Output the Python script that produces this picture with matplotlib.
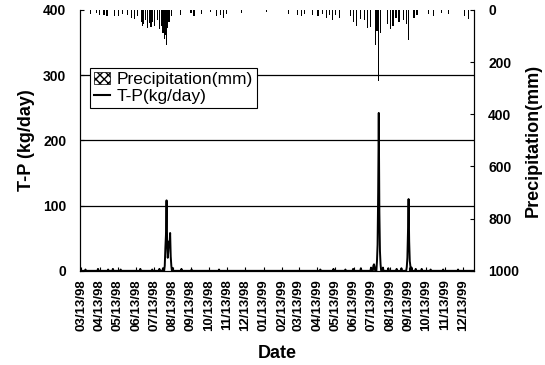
import numpy as np
import pandas as pd
import matplotlib
matplotlib.use("Agg")
from matplotlib import pyplot as plt
from matplotlib.patches import Patch
from matplotlib.lines import Line2D
import matplotlib.dates as mdates

# daily precipitation events (mm)
precip_dates = ["1998-03-28", "1998-04-07", "1998-04-13", "1998-04-20", "1998-04-25",
                "1998-05-08", "1998-05-15", "1998-05-21", "1998-05-30", "1998-06-05",
                "1998-06-10", "1998-06-15", "1998-06-22", "1998-06-24", "1998-06-26",
                "1998-06-29", "1998-07-02", "1998-07-05", "1998-07-08", "1998-07-11",
                "1998-07-14", "1998-07-19", "1998-07-22", "1998-07-25", "1998-07-28",
                "1998-07-30", "1998-08-01", "1998-08-03", "1998-08-05", "1998-08-07",
                "1998-08-11", "1998-08-27", "1998-09-13", "1998-09-18", "1998-09-30",
                "1998-10-16", "1998-10-26", "1998-11-01", "1998-11-06", "1998-11-12",
                "1998-12-07", "1999-01-17", "1999-02-23", "1999-03-11", "1999-03-17",
                "1999-03-23", "1999-04-05", "1999-04-14", "1999-04-22", "1999-04-28",
                "1999-05-04", "1999-05-09", "1999-05-14", "1999-05-20", "1999-06-07",
                "1999-06-13", "1999-06-18", "1999-06-24", "1999-07-01", "1999-07-06",
                "1999-07-11", "1999-07-19", "1999-07-22", "1999-07-25", "1999-07-28",
                "1999-08-08", "1999-08-13", "1999-08-18", "1999-08-23", "1999-08-28",
                "1999-09-05", "1999-09-09", "1999-09-13", "1999-09-22", "1999-09-27",
                "1999-10-17", "1999-10-25", "1999-11-07", "1999-11-19", "1999-12-16",
                "1999-12-22"]
precip_mm = [15, 12, 20, 18, 25,
             22, 25, 15, 18, 30,
             35, 25, 45, 60, 55,
             40, 70, 50, 65, 45,
             60, 40, 75, 60, 90,
             110, 95, 134, 70, 45,
             25, 20, 12, 25, 15,
             10, 25, 20, 30, 15,
             12, 10, 15, 20, 25,
             15, 20, 25, 15, 30,
             20, 40, 20, 30, 25,
             45, 60, 35, 40, 70,
             65, 134, 80, 272, 90,
             55, 75, 60, 30, 45,
             40, 55, 115, 30, 20,
             15, 25, 12, 15, 25,
             35]

# T-P load (kg/day), non-zero days
tp_dates = ["1998-03-20", "1998-04-10", "1998-04-27", "1998-05-05", "1998-05-18",
            "1998-06-20", "1998-07-10", "1998-07-22", "1998-07-28",
            "1998-07-31", "1998-08-01", "1998-08-02", "1998-08-03", "1998-08-04",
            "1998-08-05", "1998-08-06", "1998-08-07", "1998-08-08", "1998-08-09",
            "1998-08-10", "1998-08-11", "1998-08-13", "1998-08-28", "1998-09-14",
            "1998-10-30",
            "1999-04-18", "1999-05-10", "1999-05-30", "1999-06-12", "1999-06-25",
            "1999-07-12", "1999-07-16", "1999-07-17", "1999-07-18", "1999-07-22",
            "1999-07-23", "1999-07-24", "1999-07-25", "1999-07-26", "1999-07-27",
            "1999-07-28", "1999-08-01", "1999-08-10", "1999-08-24", "1999-09-01",
            "1999-09-10", "1999-09-11", "1999-09-12", "1999-09-13", "1999-09-14",
            "1999-09-15", "1999-09-16", "1999-09-18", "1999-09-25", "1999-10-05",
            "1999-10-20", "1999-11-10", "1999-12-05"]
tp_values = [2, 3, 2, 3, 2,
             3, 2, 3, 4,
             8, 35, 55, 108, 40,
             20, 30, 45, 38, 58,
             22, 8, 4, 3, 2,
             2,
             2, 3, 2, 3, 4,
             5, 8, 10, 6, 15,
             40, 120, 242, 90, 30,
             10, 5, 4, 3, 4,
             6, 20, 60, 110, 45,
             15, 8, 5, 3, 3,
             2, 2, 2]

xtick_dates = pd.date_range("1998-03-01", "1999-12-01", freq="MS") + pd.Timedelta(days=12)

days = pd.date_range("1998-03-12", "1999-12-31", freq="D")
tp = pd.Series(tp_values, index=pd.to_datetime(tp_dates)).reindex(days, fill_value=0)
precip = pd.Series(precip_mm, index=pd.to_datetime(precip_dates))

plt.rcParams['font.family'] = ['Liberation Sans', 'DejaVu Sans']

fig = plt.figure(figsize=(5.45, 3.65), dpi=100)
ax = fig.add_axes([0.147, 0.258, 0.723, 0.715])
ax2 = ax.twinx()

# horizontal reference lines
for v in [100, 200, 300]:
    ax.axhline(v, color="black", lw=0.9, zorder=1)

ax.plot(tp.index, tp.values, color="black", lw=1.4, zorder=3)
ax2.bar(precip.index, precip.values, width=2.0, color="black", align="center")

ax.set_ylim(0, 400)
ax.set_yticks([0, 100, 200, 300, 400])
ax2.set_ylim(1000, 0)
ax2.set_yticks([0, 200, 400, 600, 800, 1000])

ax.set_xlim(pd.Timestamp("1998-03-11"), pd.Timestamp("2000-01-01"))
ax.set_xticks(xtick_dates)
ax.xaxis.set_major_formatter(mdates.DateFormatter("%m/%d/%y"))

for lab in ax.get_xticklabels():
    lab.set_rotation(90)
    lab.set_fontsize(9.5)
    lab.set_fontweight("bold")
for lab in ax.get_yticklabels() + ax2.get_yticklabels():
    lab.set_fontsize(10)
    lab.set_fontweight("bold")

ax.tick_params(direction="in", length=3, width=0.8)
ax2.tick_params(direction="in", length=3, width=0.8, pad=10)
ax.tick_params(axis="y", pad=10)
ax.tick_params(axis="x", pad=6)

ax.set_ylabel("T-P (kg/day)", fontsize=13, fontweight="bold", labelpad=6)
ax2.set_ylabel("Precipitation(mm)", fontsize=13, fontweight="bold", labelpad=4)
ax.set_xlabel("Date", fontsize=13, fontweight="bold", labelpad=10)

for a in (ax, ax2):
    for s in a.spines.values():
        s.set_linewidth(0.8)
    a.spines["top"].set_visible(False)

handles = [Patch(facecolor="white", edgecolor="black", hatch="xxxx", lw=0.5),
           Line2D([0], [0], color="black", lw=1.5)]
leg = ax2.legend(handles, ["Precipitation(mm)", "T-P(kg/day)"],
                 loc="upper left", bbox_to_anchor=(0.025, 0.778),
                 borderaxespad=0, fontsize=12.5, frameon=True, fancybox=False,
                 handlelength=0.9, handleheight=0.6, handletextpad=0.4,
                 borderpad=0.25, labelspacing=0.1)
leg.get_frame().set_edgecolor("black")
leg.get_frame().set_linewidth(0.8)
leg.get_frame().set_alpha(1)

fig.savefig("out.png", dpi=100)
